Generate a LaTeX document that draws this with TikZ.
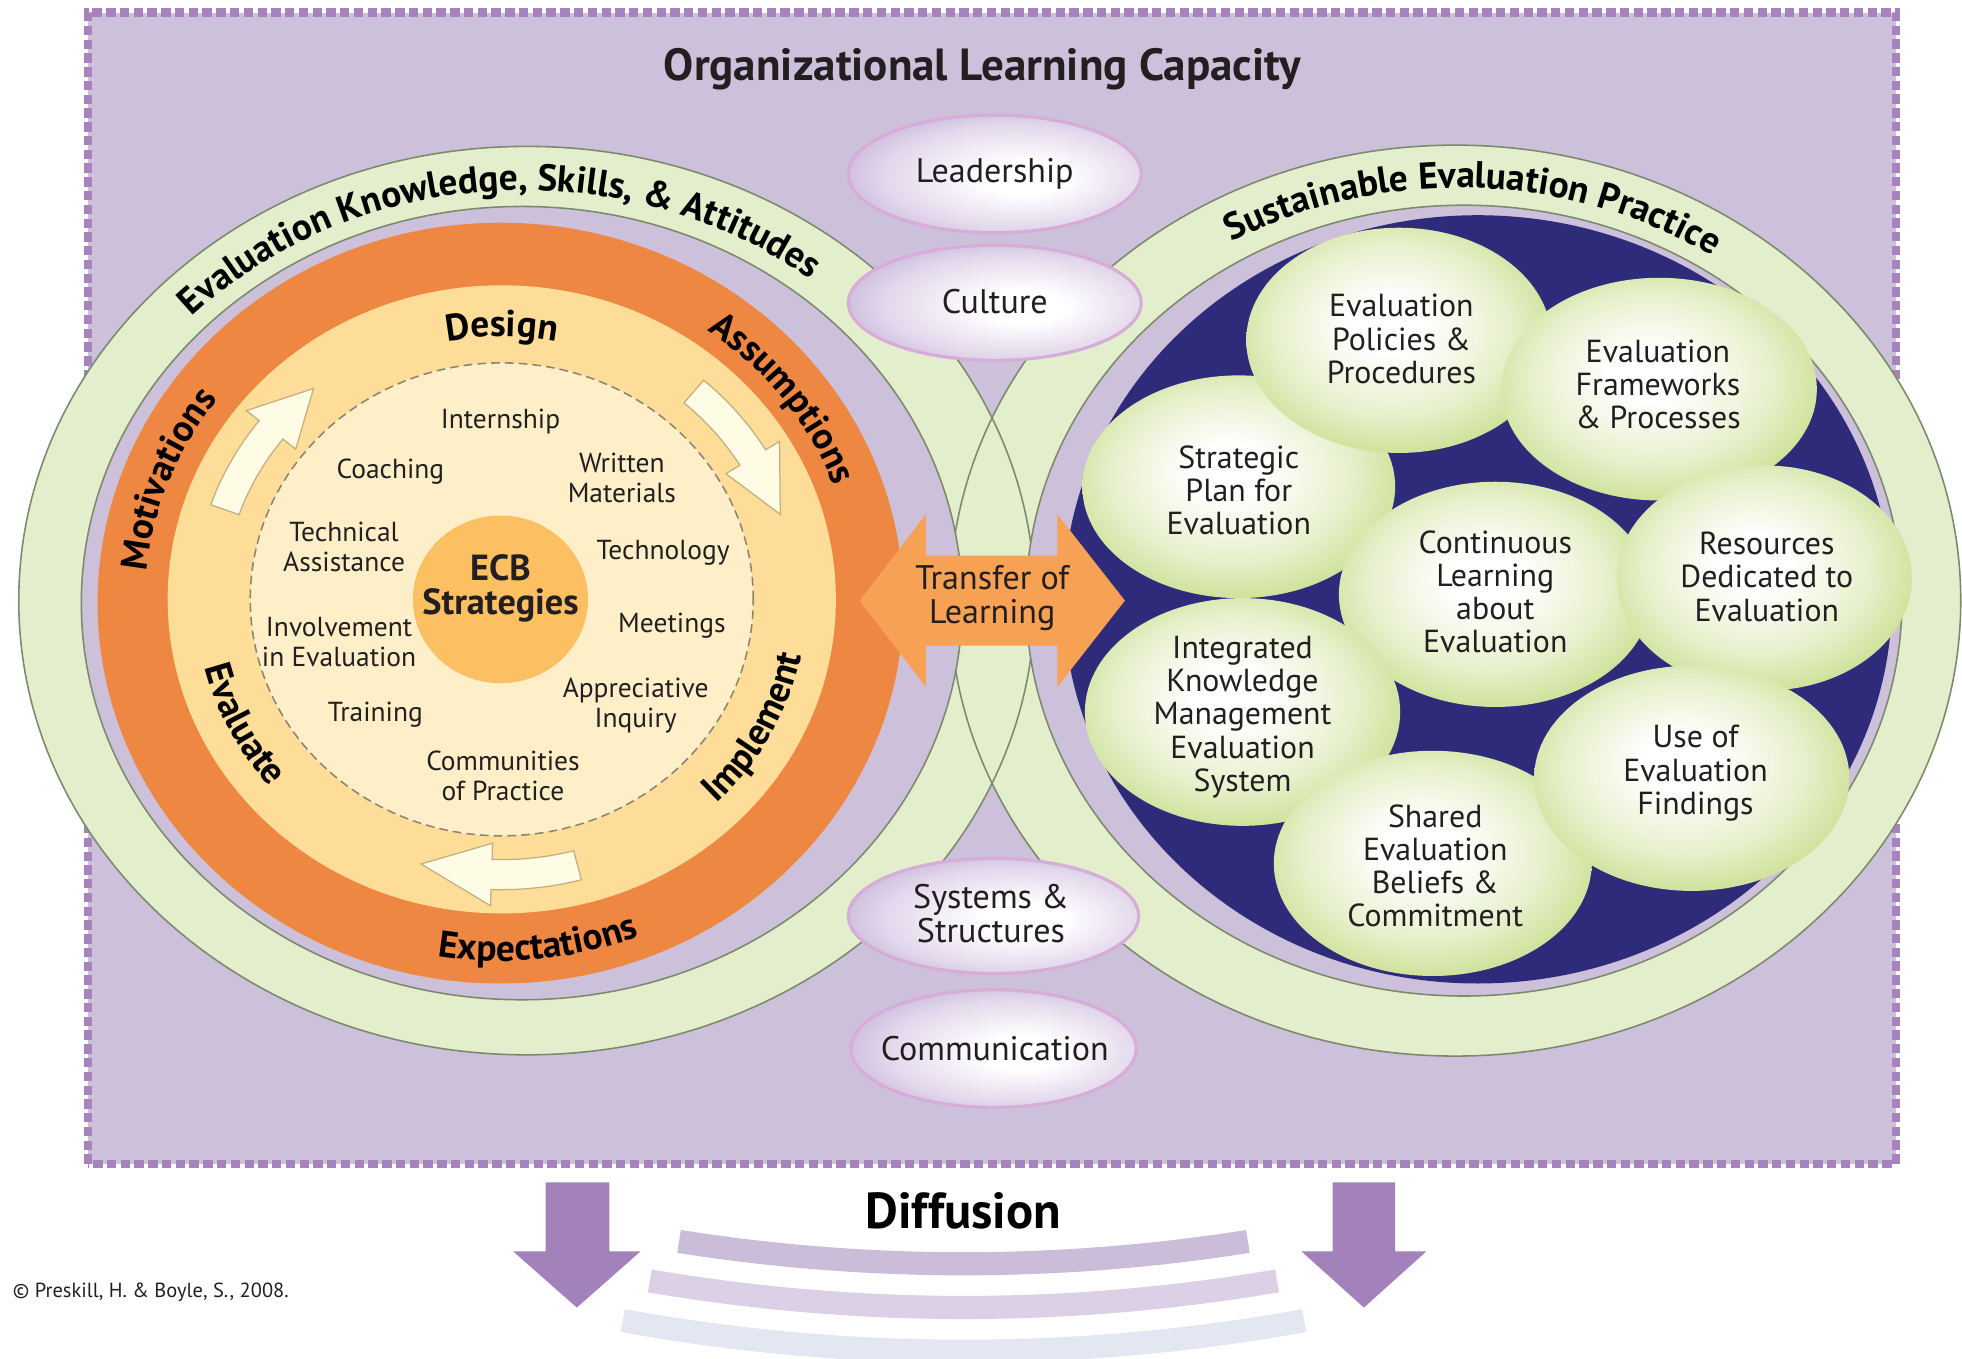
\documentclass[tikz,border=0pt]{standalone}
\usepackage{fontspec}
\setmainfont{PT Sans}
\usetikzlibrary{calc,decorations.text}

\definecolor{bgpurple}{HTML}{CDC0DA}
\definecolor{dashpurple}{HTML}{A683BD}
\definecolor{ringgreen}{HTML}{E3EECD}
\definecolor{ringline}{HTML}{7B8A6C}
\definecolor{orangeband}{HTML}{EE8742}
\definecolor{yellowband}{HTML}{FEDD98}
\definecolor{paleyellow}{HTML}{FEEFC8}
\definecolor{ecborange}{HTML}{FCC062}
\definecolor{dashgray}{HTML}{8F8472}
\definecolor{navyfill}{HTML}{2E2B7A}
\definecolor{bubblegreen}{HTML}{CADE8E}
\definecolor{pillpurple}{HTML}{BFA8D4}
\definecolor{pillpink}{HTML}{D8ACD8}
\definecolor{transferorange}{HTML}{F6A153}
\definecolor{diffpurple}{HTML}{A381BA}
\definecolor{diffone}{HTML}{CBBDD9}
\definecolor{difftwo}{HTML}{DCD0E6}
\definecolor{diffthree}{HTML}{E3E7F2}
\definecolor{textgray}{HTML}{231F20}
\definecolor{arrowcream}{HTML}{FFFCE6}
\definecolor{arrowline}{HTML}{C4AE80}

\pgfdeclareradialshading{bubbleshade}{\pgfpoint{-2bp}{4bp}}{color(0bp)=(white); color(6bp)=(white); color(19bp)=(bubblegreen!45!white); color(29bp)=(bubblegreen); color(36bp)=(bubblegreen!94!black); color(50bp)=(bubblegreen!94!black)}
\pgfdeclareradialshading{pillshade}{\pgfpoint{6bp}{-2bp}}{color(0bp)=(white); color(7bp)=(white); color(22bp)=(pillpurple!45!white); color(34bp)=(pillpurple); color(50bp)=(pillpurple)}

\newcommand{\arcfont}{\fontsize{17}{17}\selectfont\bfseries}

\begin{document}
\begin{tikzpicture}[x=0.02cm, y=0.02cm,
    ring/.style={draw=ringline, line width=0.025cm},
    pill/.style={shade, shading=pillshade, draw=pillpink, line width=0.05cm},
    bubble/.style={shade, shading=bubbleshade},
    strat/.style={font=\fontsize{12.5}{13.4}\selectfont, align=center, text=textgray, inner sep=0},
    bubbletext/.style={font=\fontsize{14.5}{15.1}\selectfont, align=center, text=textgray, inner sep=0},
    pilltext/.style={font=\fontsize{15.5}{15.2}\selectfont, align=center, text=textgray, inner sep=0},
    bandarrow/.style={fill=arrowcream, draw=arrowline, line width=0.02cm},
    arctext/.style={decorate, decoration={text along path, text align=center, text={#1}}}]
      \useasboundingbox (0,0) rectangle (1568,1086);
      \draw[fill=bgpurple, draw=dashpurple, line width=0.13cm, dash pattern=on 0.15cm off 0.07cm] (70,156) rectangle (1515,1076);
      \node[font=\fontsize{20.5}{21}\selectfont\bfseries, text=textgray] (title) at (785,1031) {Organizational Learning Capacity};

      \fill[ringgreen] (421,606) ellipse [x radius=406, y radius=363];
      \fill[ringgreen] (1163,606) ellipse [x radius=404, y radius=364];
      \draw[ring] (421,606) ellipse [x radius=406, y radius=363];
      \draw[ring] (1163,606) ellipse [x radius=404, y radius=364];
      \draw[ring, fill=bgpurple] (417,604) ellipse [x radius=352, y radius=317];
      \draw[ring, fill=bgpurple] (1170,606) ellipse [x radius=350, y radius=316];

      \fill[orangeband] (400,604) ellipse [x radius=322, y radius=304];
      \fill[yellowband] (401,607) ellipse [x radius=267, y radius=251];
      \draw[fill=paleyellow, draw=dashgray, line width=0.025cm, dash pattern=on 0.14cm off 0.08cm] (401,607) ellipse [x radius=201, y radius=189];
      \fill[ecborange] (400,607) ellipse [x radius=70, y radius=67];
      \foreach \ta/\tb/\tc in {161/142/130, 49/31/18, 285/268/254}
        \draw[bandarrow] (401,607) ++(\ta:246 and 232) arc[start angle=\ta, end angle=\tb, x radius=246, y radius=232]
          -- ($(401,607)+(\tb:259 and 245)$) -- ($(401,607)+(\tc:234 and 220)$)
          -- ($(401,607)+(\tb:209 and 195)$) -- ($(401,607)+(\tb:222 and 208)$)
          arc[start angle=\tb, end angle=\ta, x radius=222, y radius=208] -- cycle;

      \node[font=\fontsize{16.5}{15.4}\selectfont\bfseries, align=center, text=textgray, inner sep=0] (ecb) at (400,616) {ECB\\Strategies};
      \node[strat] (internship) at (400,749) {Internship};
      \node[strat] (coaching) at (312,709) {Coaching};
      \node[strat] (written) at (497,704) {Written\\Materials};
      \node[strat] (technical) at (275,649) {Technical\\Assistance};
      \node[strat] (technology) at (530,644) {Technology};
      \node[strat] (involvement) at (271,573) {Involvement\\in Evaluation};
      \node[strat] (meetings) at (537,586) {Meetings};
      \node[strat] (training) at (300,515) {Training};
      \node[strat] (appreciative) at (508,522) {Appreciative\\Inquiry};
      \node[strat] (communities) at (402,466) {Communities\\of Practice};

      \path[arctext={|\arcfont|Evaluation Knowledge, Skills, {\&} Attitudes}] (419,605) ++(149:368 and 329) arc[start angle=149, end angle=39, x radius=368, y radius=329];
      \path[arctext={|\arcfont|Motivations}] (400,605) ++(190:284 and 267) arc[start angle=190, end angle=128, x radius=284, y radius=267];
      \path[arctext={|\arcfont|Assumptions}] (400,605) ++(68:284 and 267) arc[start angle=68, end angle=6, x radius=284, y radius=267];
      \path[arctext={|\arcfont|Expectations}] (400,605) ++(246:304 and 287) arc[start angle=246, end angle=306, x radius=304, y radius=287];
      \path[arctext={|\arcfont|Design}] (401,607) ++(115:224 and 210) arc[start angle=115, end angle=65, x radius=224, y radius=210];
      \path[arctext={|\arcfont|Implement}] (401,607) ++(-60:244 and 230) arc[start angle=-60, end angle=4, x radius=244, y radius=230];
      \path[arctext={|\arcfont|Evaluate}] (401,607) ++(180:244 and 230) arc[start angle=180, end angle=234, x radius=244, y radius=230];

      \fill[navyfill] (1181,607) ellipse [x radius=331, y radius=307];
      \path[bubble] (990,697) ellipse [x radius=125, y radius=89];
      \node[bubbletext] (strategic) at (990,694) {Strategic\\Plan for\\Evaluation};
      \path[bubble] (1118,814) ellipse [x radius=122, y radius=90];
      \node[bubbletext] (policies) at (1120,815) {Evaluation\\Policies \&\\Procedures};
      \path[bubble] (1326,775) ellipse [x radius=126, y radius=89];
      \node[bubbletext] (frameworks) at (1325,779) {Evaluation\\Frameworks\\\& Processes};
      \path[bubble] (1195,611) ellipse [x radius=125, y radius=90];
      \node[bubbletext] (continuous) at (1195,613) {Continuous\\Learning\\about\\Evaluation};
      \path[bubble] (993,517) ellipse [x radius=126, y radius=91];
      \node[bubbletext] (integrated) at (993,513) {Integrated\\Knowledge\\Management\\Evaluation\\System};
      \path[bubble] (1410,624) ellipse [x radius=118, y radius=90];
      \node[bubbletext] (resources) at (1412,625) {Resources\\Dedicated to\\Evaluation};
      \path[bubble] (1145,396) ellipse [x radius=127, y radius=90];
      \node[bubbletext] (shared) at (1147,394) {Shared\\Evaluation\\Beliefs \&\\Commitment};
      \path[bubble] (1352,464) ellipse [x radius=126, y radius=90];
      \node[bubbletext] (findings) at (1355,468) {Use of\\Evaluation\\Findings};
      \path[arctext={|\arcfont|Sustainable Evaluation Practice}] (1166,606) ++(140:367 and 330) arc[start angle=140, end angle=36, x radius=367, y radius=330];

      \path[pill] (795,947) ellipse [x radius=117, y radius=47];
      \node[pilltext] (leadership) at (795,947) {Leadership};
      \path[pill] (795,844) ellipse [x radius=117, y radius=46];
      \node[pilltext] (culture) at (795,845) {Culture};
      \path[pill] (794,354) ellipse [x radius=116, y radius=46];
      \node[pilltext] (systems) at (792,356) {Systems \&\\Structures};
      \path[pill] (794,248) ellipse [x radius=114, y radius=47];
      \node[pilltext] (communication) at (795,248) {Communication};

      \fill[transferorange] (687,606) -- (740,675) -- (740,642) -- (845,642) -- (845,675) -- (899,606) -- (845,537) -- (845,570) -- (740,570) -- (740,537) -- cycle;
      \node[pilltext] (transfer) at (793,608) {Transfer of\\Learning};

      \fill[diffpurple] (436,141) -- (487,141) -- (487,86) -- (512,86) -- (461,41) -- (410,86) -- (436,86) -- cycle;
      \fill[diffpurple] (1065,141) -- (1115,141) -- (1115,86) -- (1140,86) -- (1090,41) -- (1040,86) -- (1065,86) -- cycle;
      \draw[diffone, line width=0.37cm] (770,1529) ++(261:1453) arc[start angle=261, end angle=279, radius=1453];
      \draw[difftwo, line width=0.37cm] (770,1529) ++(260.3:1488) arc[start angle=260.3, end angle=279.7, radius=1488];
      \draw[diffthree, line width=0.37cm] (770,1529) ++(259.7:1523) arc[start angle=259.7, end angle=280.3, radius=1523];
      \node[font=\fontsize{23}{23}\selectfont\bfseries, text=black] (diffusion) at (770,118) {Diffusion};
      \node[anchor=west, font=\fontsize{9.3}{10}\selectfont, text=textgray, inner sep=0] (copyright) at (10,53) {© Preskill, H. \& Boyle, S., 2008.};
\end{tikzpicture}
\end{document}
